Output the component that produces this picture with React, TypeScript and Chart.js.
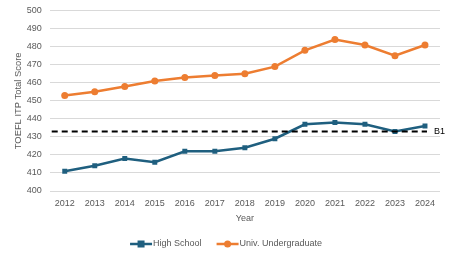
import React, { useEffect, useRef } from "react";
import { Chart, registerables } from "chart.js";

Chart.register(...registerables);

const years = ["2012","2013","2014","2015","2016","2017","2018","2019","2020","2021","2022","2023","2024"];
const highSchool = [411, 414, 418, 416, 422, 422, 424, 429, 437, 438, 437, 433, 436];
const undergrad = [453, 455, 458, 461, 463, 464, 465, 469, 478, 484, 481, 475, 481];
const b1Value = 433;
const b1Label = "B1";

const FONT = "'Liberation Sans', Arial, sans-serif";
const BLUE = "#1F5F7F";
const ORANGE = "#ED7D31";
const GRAY = "#595959";

const b1Plugin = {
  id: "b1line",
  afterDatasetsDraw(chart: any) {
    const { ctx, chartArea, scales } = chart;
    const y = scales.y.getPixelForValue(b1Value);
    const xEnd = scales.x.getPixelForValue(years.length - 1);
    ctx.save();
    ctx.strokeStyle = "#000000";
    ctx.lineWidth = 2;
    ctx.setLineDash([6, 4]);
    ctx.beginPath();
    ctx.moveTo(chartArea.left + 2, y);
    ctx.lineTo(xEnd + 2, y);
    ctx.stroke();
    ctx.setLineDash([]);
    ctx.fillStyle = "#000000";
    ctx.font = `9px ${FONT}`;
    ctx.textBaseline = "middle";
    ctx.textAlign = "left";
    ctx.fillText(b1Label, xEnd + 9, y);
    ctx.restore();
  },
};

const legendPlugin = {
  id: "customLegend",
  afterDraw(chart: any) {
    const { ctx } = chart;
    const ds = chart.data.datasets;
    const y = 244;
    const iconW = 22;
    const textGap = 1;
    const itemGap = 15;
    ctx.save();
    ctx.font = `9px ${FONT}`;
    const widths = ds.map((d: any) => iconW + textGap + ctx.measureText(d.label).width);
    const total = widths.reduce((a: number, b: number) => a + b, 0) + itemGap * (ds.length - 1);
    let x = 226 - total / 2;
    ds.forEach((d: any, i: number) => {
      ctx.strokeStyle = d.borderColor;
      ctx.fillStyle = d.borderColor;
      ctx.lineWidth = 2.5;
      ctx.beginPath();
      ctx.moveTo(x, y);
      ctx.lineTo(x + iconW, y);
      ctx.stroke();
      if (d.pointStyle === "rect") {
        ctx.fillRect(x + iconW / 2 - 3.5, y - 3.5, 7, 7);
      } else {
        ctx.beginPath();
        ctx.arc(x + iconW / 2, y, 3.5, 0, Math.PI * 2);
        ctx.fill();
      }
      ctx.fillStyle = GRAY;
      ctx.textBaseline = "middle";
      ctx.textAlign = "left";
      ctx.fillText(d.label, x + iconW + textGap, y);
      x += widths[i] + itemGap;
    });
    ctx.restore();
  },
};

export default function App() {
  const ref = useRef<HTMLCanvasElement>(null);
  useEffect(() => {
    const chart = new Chart(ref.current!, {
      type: "line",
      data: {
        labels: years,
        datasets: [
          {
            label: "High School",
            data: highSchool,
            borderColor: BLUE,
            backgroundColor: BLUE,
            borderWidth: 2.5,
            pointStyle: "rect",
            pointRadius: 3.5,
            pointBorderWidth: 0,
            tension: 0,
          },
          {
            label: "Univ. Undergraduate",
            data: undergrad,
            borderColor: ORANGE,
            backgroundColor: ORANGE,
            borderWidth: 2.5,
            pointStyle: "circle",
            pointRadius: 3.5,
            pointBorderWidth: 0,
            tension: 0,
          },
        ],
      },
      options: {
        animation: false,
        responsive: false,
        layout: { padding: { left: 11, right: 10, top: 0, bottom: 34.5 } },
        plugins: {
          legend: { display: false },
          tooltip: { enabled: false },
        },
        scales: {
          x: {
            offset: true,
            grid: { display: false, drawTicks: false },
            border: { display: false },
            ticks: { color: GRAY, font: { family: FONT, size: 9, lineHeight: 1 }, padding: 8 },
            title: { display: true, text: "Year", color: GRAY, font: { family: FONT, size: 9, lineHeight: 1 }, padding: { top: -1.5, bottom: 0 } },
          },
          y: {
            min: 400,
            max: 500,
            grid: { color: "#D9D9D9", drawTicks: false },
            border: { display: false },
            ticks: { stepSize: 10, color: GRAY, font: { family: FONT, size: 9, lineHeight: 0.6 }, padding: 8 },
            title: { display: true, text: "TOEFL ITP Total Score", color: GRAY, font: { family: FONT, size: 9.4, lineHeight: 1 }, padding: { top: 2.5, bottom: -4.2 } },
          },
        },
      },
      plugins: [b1Plugin, legendPlugin],
    });
    return () => chart.destroy();
  }, []);
  return (
    <div style={{ position: "fixed", left: 0, top: 0, width: 450, height: 258, background: "#fff" }}>
      <canvas ref={ref} width={450} height={258} style={{ width: 450, height: 258 }} />
    </div>
  );
}
